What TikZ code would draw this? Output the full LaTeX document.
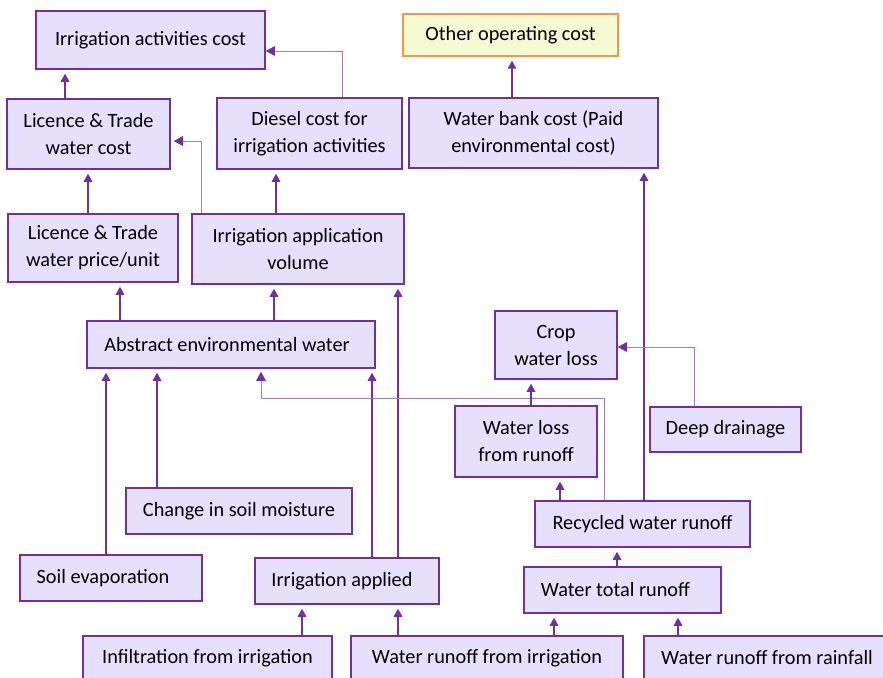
\documentclass[tikz,border=0pt]{standalone}
\usepackage{fontspec}
\setmainfont{Carlito}
\usetikzlibrary{arrows.meta}
\definecolor{boxline}{HTML}{7030A0}
\definecolor{boxfill}{HTML}{E6E0FC}
\definecolor{thinline}{HTML}{A57CD2}
\definecolor{orangeline}{HTML}{F79646}
\definecolor{yellowfill}{HTML}{F5FAD2}
\tikzset{
  box/.style={draw=boxline, fill=boxfill, line width=1.5pt, inner sep=0pt,
    align=center, font=\fontsize{20.3}{27}\selectfont},
  costbox/.style={box, draw=orangeline, fill=yellowfill},
  link/.style={draw=boxline, line width=1.6pt,
    -{Triangle[length=8pt,width=8.5pt]}, shorten >=4pt},
  thinlink/.style={draw=thinline, line width=0.9pt,
    -{Triangle[length=9pt,width=9.5pt,color=boxline]}, shorten >=3pt}
}
\begin{document}
\begin{tikzpicture}[x=1pt,y=-1pt]
\useasboundingbox (0,0) rectangle (883,677);
\clip (0,0) rectangle (883,677);

% cost level
\node[box, minimum width=229pt, minimum height=58pt] (iac) at (150.5,40) {Irrigation activities cost};
\node[costbox, minimum width=215pt, minimum height=42pt] (ooc) at (510.5,35) {Other operating cost};
\node[box, minimum width=163pt, minimum height=70pt] (ltwc) at (88.5,134) {Licence \& Trade\\water cost};
\node[box, minimum width=185pt, minimum height=71pt] (dcost) at (309.5,133.5) {Diesel cost for\\irrigation activities};
\node[box, minimum width=249pt, minimum height=70pt] (wbc) at (533.5,133) {Water bank cost (Paid\\environmental cost)};

% volumes and prices
\node[box, minimum width=170pt, minimum height=68pt] (ltwp) at (93,248) {Licence \& Trade\\water price/unit};
\node[box, minimum width=212pt, minimum height=70pt] (iav) at (298,249) {Irrigation application\\volume};
\node[box, minimum width=288pt, minimum height=47pt] (aew) at (231,344.5) {\hspace*{-8pt}Abstract environmental water};

% water balance
\node[box, minimum width=122pt, minimum height=68pt] (cwl) at (556,345) {Crop\\water loss};
\node[box, minimum width=142pt, minimum height=71pt] (wlr) at (526,441.5) {Water loss\\from runoff};
\node[box, minimum width=151pt, minimum height=45pt] (dd) at (725.5,429.5) {Deep drainage};
\node[box, minimum width=226pt, minimum height=46pt] (csm) at (239,511) {Change in soil moisture};
\node[box, minimum width=215pt, minimum height=46pt] (rwr) at (642.5,524) {Recycled water runoff};
\node[box, minimum width=182pt, minimum height=46pt] (se) at (111,578) {\hspace*{-16pt}Soil evaporation};
\node[box, minimum width=184pt, minimum height=46pt] (ia) at (347,581) {\hspace*{-10pt}Irrigation applied};
\node[box, minimum width=197pt, minimum height=46pt] (wtr) at (622.5,590) {\hspace*{-14pt}Water total runoff};

% sources
\node[box, minimum width=249pt, minimum height=44pt] (ifi) at (207.5,658) {Infiltration from irrigation};
\node[box, minimum width=272pt, minimum height=44pt] (wri) at (487,658) {Water runoff from irrigation};
\node[box, minimum width=246pt, minimum height=44pt] (wrr) at (767,658) {Water runoff from rainfall};

% connectors
\draw[link] (ltwc.north -| 65,0) -- (iac.south -| 65,0);
\draw[thinlink, shorten >=0pt] (dcost.north -| 342,0) |- (iac.east |- 0,51);
\draw[thinlink] (iav.north -| 201,0) |- (ltwc.east |- 0,141);
\draw[link] (ltwp.north -| 88,0) -- (ltwc.south -| 88,0);
\draw[link] (iav.north -| 276,0) -- (dcost.south -| 276,0);
\draw[link] (wbc.north -| 512,0) -- (ooc.south -| 512,0);

\draw[link] (aew.north -| 120,0) -- (ltwp.south -| 120,0);
\draw[link] (aew.north -| 274,0) -- (iav.south -| 274,0);
\draw[link] (ia.north -| 398,0) -- (iav.south -| 398,0);

\draw[link] (se.north -| 106,0) -- (aew.south -| 106,0);
\draw[link] (csm.north -| 157,0) -- (aew.south -| 157,0);
\draw[link] (ia.north -| 372,0) -- (aew.south -| 372,0);
\draw[thinlink] (rwr.north -| 604,0) -- (604,398) -| (aew.south -| 261,0);

\draw[link] (rwr.north -| 644,0) -- (wbc.south -| 644,0);
\draw[link] (rwr.north -| 560,0) -- (wlr.south -| 560,0);
\draw[link] (wlr.north -| 531,0) -- (cwl.south -| 531,0);
\draw[thinlink, shorten >=0pt] (dd.north -| 694,0) |- (cwl.east |- 0,347);
\draw[link] (wtr.north -| 617,0) -- (rwr.south -| 617,0);

\draw[link] (ifi.north -| 302,0) -- (ia.south -| 302,0);
\draw[link] (wri.north -| 398,0) -- (ia.south -| 398,0);
\draw[link] (wri.north -| 554,0) -- (wtr.south -| 554,0);
\draw[link] (wrr.north -| 678,0) -- (wtr.south -| 678,0);
\end{tikzpicture}
\end{document}
